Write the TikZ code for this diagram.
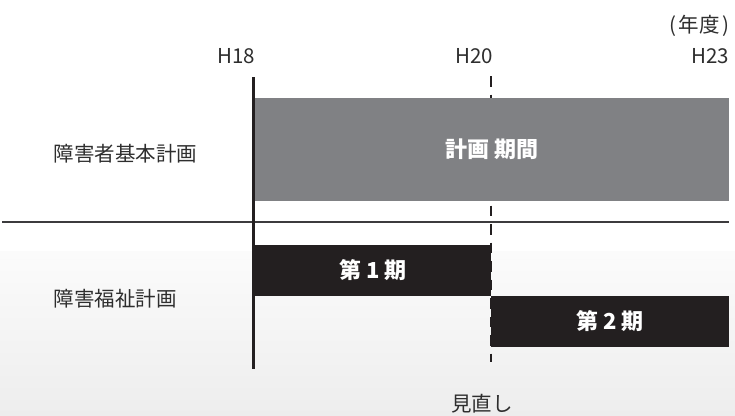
\documentclass[tikz,border=0pt]{standalone}
\usepackage{fontspec}
\setmainfont{Noto Sans CJK JP}
\definecolor{inkblack}{HTML}{231F20}
\definecolor{plangray}{HTML}{808184}
\definecolor{rulegray}{HTML}{3C3B3D}
\definecolor{txtgray}{HTML}{2E2E2E}
\tikzset{
  lbl/.style={inner sep=0pt, text=txtgray, font=\fontsize{20.5}{24}\selectfont},
  blocklbl/.style={inner sep=0pt, text=white, font=\fontsize{22}{25}\selectfont\bfseries},
  planbox/.style={blocklbl, fill=plangray, minimum width=474pt, minimum height=103pt},
  termbox/.style={blocklbl, fill=inkblack, minimum width=237pt, minimum height=51pt},
  solidrule/.style={draw=inkblack, line width=2.2pt},
  dashrule/.style={draw=inkblack, line width=2.2pt, dash pattern=on 10.5pt off 8pt},
  seprule/.style={draw=rulegray, line width=2.4pt}
}
\begin{document}
\begin{tikzpicture}[x=1pt,y=-1pt]
\useasboundingbox (0,0) rectangle (735,415);
\fill[white] (0,0) rectangle (735,415);
\shade[top color=black!1.5, bottom color=black!7] (0,251) rectangle (735,415);

% guide lines
\coordinate (h18top) at (253.5,77);
\coordinate (h18bot) at (253.5,369);
\coordinate (h20top) at (491,76);
\coordinate (h20bot) at (491,362);
\coordinate (sepl) at (2,222);
\coordinate (sepr) at (729,222);
\draw[dashrule] (h20top) -- (h20bot);

% plan period
\node[planbox] (plan) at (492,149.5) {\raisebox{-1.5pt}{計画 期間}};

\draw[seprule] (sepl) -- (sepr);
\draw[solidrule] (h18top) -- (h18bot);

% terms
\node[termbox, minimum width=236pt] (t1) at (373,270.5) {第 1 期};
\node[termbox, minimum width=238pt] (t2) at (610,321.5) {第 2 期};

% axis labels
\node[lbl, anchor=base east] (y18) at (255.5,63) {H18};
\node[lbl, anchor=base east] (y20) at (493.5,63) {H20};
\node[lbl, anchor=base east] (y23) at (729.5,63) {H23};
\node[lbl, anchor=base east] (unit) at (729.5,32) {(\kern0.12em 年度\kern0.12em)};

% row labels
\node[lbl, anchor=base west] (r1) at (53.5,161.5) {障害者基本計画};
\node[lbl, anchor=base west] (r2) at (53.5,306.5) {障害福祉計画};

\node[lbl, anchor=base west] (rev) at (451,411.5) {見直し};
\end{tikzpicture}
\end{document}
